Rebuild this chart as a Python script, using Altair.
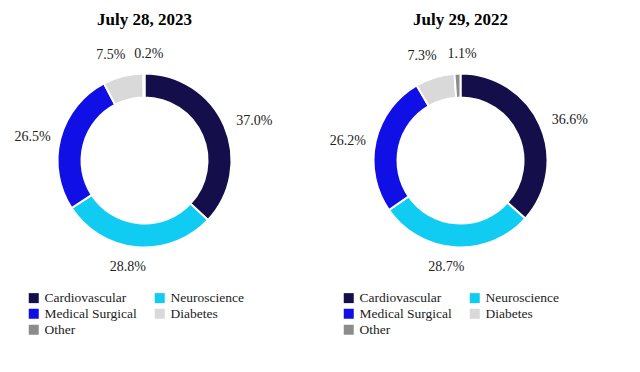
import altair as alt
import pandas as pd

segments = ["Cardiovascular", "Neuroscience", "Medical Surgical", "Diabetes", "Other"]
colors = ["#140F4A", "#10CCF2", "#1010E6", "#D9D9D9", "#8C8C8C"]
periods = ["July 28, 2023", "July 29, 2022"]
share_2023 = [37.0, 28.8, 26.5, 7.5, 0.2]
share_2022 = [36.6, 28.7, 26.2, 7.3, 1.1]

rows = []
for period, vals in zip(periods, [share_2023, share_2022]):
    for i, (seg, v) in enumerate(zip(segments, vals)):
        rows.append({"period": period, "segment": seg, "value": v, "idx": i})
df = pd.DataFrame(rows)

FONT = "Liberation Serif"
CY = 152.5
R_OUT, R_IN = 87, 63
R_LBL = 100
LBL_COLOR = "#222222"


def donut(period, cx, legend_x):
    base = alt.Chart(df).transform_filter(alt.datum.period == period)
    arc = base.mark_arc(innerRadius=R_IN, outerRadius=R_OUT, stroke="white", strokeWidth=2).encode(
        theta=alt.Theta("value:Q", stack=True),
        order=alt.Order("idx:Q"),
        color=alt.Color(
            "segment:N",
            scale=alt.Scale(domain=segments, range=colors),
            sort=segments,
            legend=alt.Legend(
                title=None,
                orient="none",
                direction="horizontal",
                legendX=legend_x,
                legendY=283,
                columns=2,
                symbolType="square",
                symbolSize=100,
                symbolStrokeWidth=0,
                symbolOpacity=1,
                labelFont=FONT,
                labelFontSize=13.5,
                labelColor=LBL_COLOR,
                labelOffset=4,
                rowPadding=1,
                columnPadding=16,
                padding=0,
            ),
        ),
        x=alt.value(cx),
        y=alt.value(CY),
    )

    lbase = (
        base.transform_window(cum="sum(value)", sort=[alt.SortField("idx")], frame=[None, 0])
        .transform_joinaggregate(total="sum(value)")
        .transform_calculate(
            ang="2 * PI * (datum.cum - datum.value / 2) / datum.total",
            label="format(datum.value, '.1f') + '%'",
        )
        .transform_calculate(s="sin(datum.ang)", c="cos(datum.ang)")
    )

    def lbl(filt, align, baseline, dx=0, dy=0):
        return (
            lbase.transform_filter(filt)
            .mark_text(radius=R_LBL, font=FONT, fontSize=14, color=LBL_COLOR,
                       align=align, baseline=baseline, dx=dx, dy=dy)
            .encode(theta=alt.Theta("ang:Q", scale=None), text="label:N",
                    x=alt.value(cx), y=alt.value(CY))
        )

    right_l = lbl("datum.s > 0.34", "left", "middle")
    left_l = lbl("datum.s < -0.34", "right", "middle", dx=3, dy=2)
    bottom_l = lbl("abs(datum.s) <= 0.34 && datum.c < 0", "center", "top", dx=-8)
    top_main = lbl("abs(datum.s) <= 0.34 && datum.c >= 0 && datum.segment != 'Other'", "center", "bottom", dx=-9, dy=-2)
    top_other = lbl("abs(datum.s) <= 0.34 && datum.c >= 0 && datum.segment == 'Other'", "center", "bottom", dx=5)

    title = (
        alt.Chart(pd.DataFrame({"t": [period]}))
        .mark_text(font=FONT, fontSize=17, fontWeight="bold", color="black")
        .encode(text="t:N", x=alt.value(cx), y=alt.value(12))
    )
    return alt.layer(arc, right_l, left_l, bottom_l, top_main, top_other, title).resolve_scale(theta="independent")


left = donut(periods[0], 136.5, 19)
right = donut(periods[1], 452.5, 334)

chart = (
    alt.layer(left, right)
    .resolve_scale(color="independent", theta="independent")
    .resolve_legend(color="independent")
    .properties(width=624, height=356, autosize=alt.AutoSizeParams(type="none"), padding=0)
    .configure_view(stroke=None)
    .configure_legend(labelFont=FONT, labelFontSize=13.5, labelColor=LBL_COLOR)
)

chart.save("out.html", embed_options={"renderer": "svg", "actions": False})
